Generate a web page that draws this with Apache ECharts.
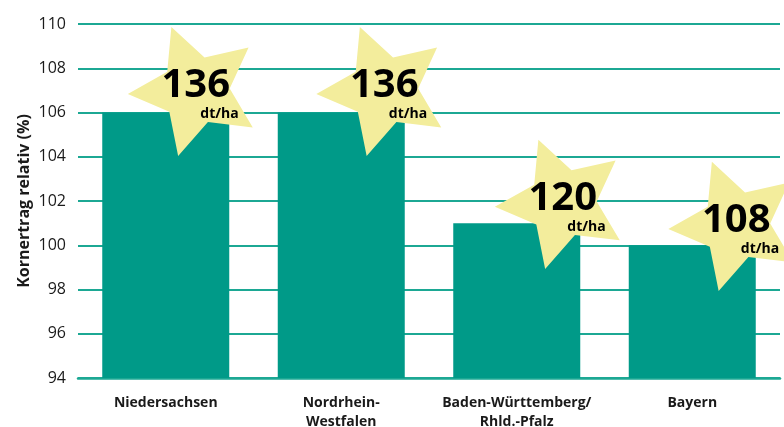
<!DOCTYPE html>
<html>
<head>
  <meta charset="utf-8">
  <script src="https://cdn.jsdelivr.net/npm/echarts@6/dist/echarts.min.js"></script>
</head>
<body style="margin:0">
  <div id="main" style="width:784px;height:427px;"></div>
  <script type="text/javascript">

  // data
  var regions = ['Niedersachsen', 'Nordrhein-\nWestfalen', 'Baden-Württemberg/\nRhld.-Pfalz', 'Bayern'];
  var relYield = [106, 106, 101, 100];          // Kornertrag relativ (%)
  var absYield = [136, 136, 120, 108];          // dt/ha, shown in the stars
  var starLevel = [107, 107, 101.9, 100.9];     // star centre on the % axis

  var teal = '#009a88';
  var lineTeal = '#1ca894';
  var starFill = '#f3ed9c';
  var font = 'Open Sans';
  var starShift = [30, 43, 46, 44];             // px to the right of the bar centre

  function starPoints(cx, cy, R) {
    var pts = [];
    var rot = -21 * Math.PI / 180;
    for (var k = 0; k < 10; k++) {
      var r = (k % 2) ? R * 0.5 : R;
      var a = rot + k * Math.PI / 5;
      pts.push([cx + r * Math.sin(a), cy - r * Math.cos(a)]);
    }
    return pts;
  }

  var myChart = echarts.init(document.getElementById('main'));

  var option = {
    animation: false,
    grid: { left: 78, right: 4, top: 24, bottom: 49, outerBoundsMode: 'none', containLabel: false },
    xAxis: {
      type: 'category',
      data: regions,
      axisTick: { show: false },
      axisLine: { lineStyle: { color: lineTeal, width: 2.5 } },
      axisLabel: {
        interval: 0,
        margin: 16,
        fontFamily: font, fontWeight: 'bold', fontSize: 14,
        color: '#1a1a1a', lineHeight: 19
      }
    },
    yAxis: {
      type: 'value',
      min: 94, max: 110, interval: 2,
      name: 'Kornertrag relativ (%)',
      nameLocation: 'middle',
      nameGap: 46,
      nameMoveOverlap: false,
      nameTextStyle: { fontFamily: font, fontWeight: 'bold', fontSize: 16, color: '#1a1a1a' },
      axisLine: { show: false },
      axisTick: { show: false },
      axisLabel: { margin: 12, fontFamily: font, fontSize: 16, color: '#1a1a1a' },
      splitLine: { lineStyle: { color: lineTeal, width: 2 } }
    },
    series: [{
      type: 'bar',
      data: relYield,
      barWidth: 127,
      itemStyle: { color: teal },
      z: 2
    }, {
      type: 'custom',
      z: 5,
      data: starLevel.map(function (v, i) { return [i, v]; }),
      renderItem: function (params, api) {
        var i = params.dataIndex;
        var c = api.coord([api.value(0), api.value(1)]);
        var cx = c[0] + starShift[i], cy = c[1];
        return {
          type: 'group',
          children: [{
            type: 'polygon',
            shape: { points: starPoints(cx, cy, 68) },
            style: { fill: starFill }
          }, {
            type: 'text',
            style: {
              text: String(absYield[i]), x: cx, y: cy - 5,
              align: 'center', verticalAlign: 'middle',
              font: 'bold 40px "' + font + '"', fill: '#000'
            }
          }, {
            type: 'text',
            style: {
              text: 'dt/ha', x: cx + 43, y: cy + 24,
              align: 'right', verticalAlign: 'middle',
              font: 'bold 14px "' + font + '"', fill: '#000'
            }
          }]
        };
      }
    }]
  };

  myChart.setOption(option);
  </script>
</body>
</html>
